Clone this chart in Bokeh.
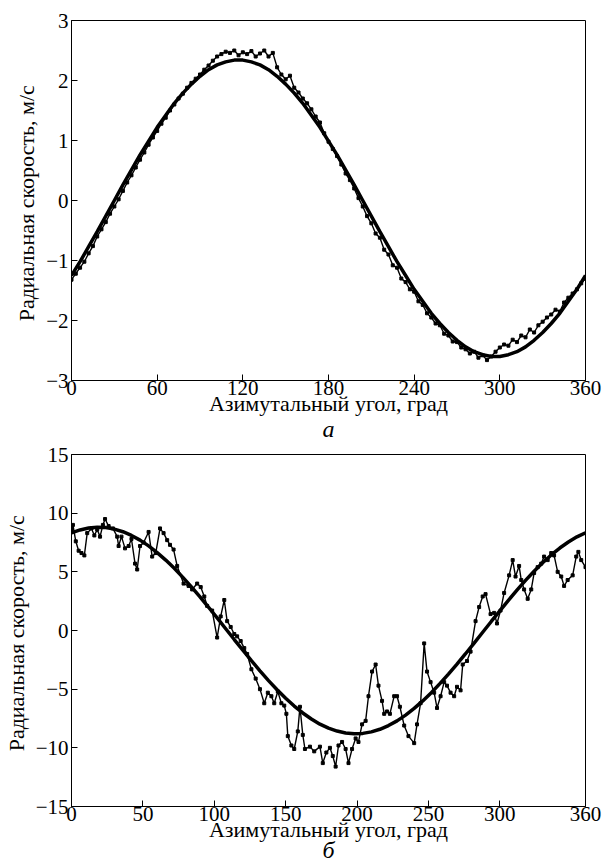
from bokeh.plotting import figure
from bokeh.layouts import column
from bokeh.models import FixedTicker, LinearAxis
from bokeh.embed import file_html
from bokeh.resources import INLINE

# ---------------- data: panel а ----------------
fit_a_x = list(range(0, 361, 6))
fit_a_y = [-1.25, -1.02, -0.77, -0.52, -0.26, 0.00, 0.26, 0.51, 0.76, 0.99, 1.22,
           1.42, 1.62, 1.79, 1.94, 2.07, 2.18, 2.26, 2.31, 2.34, 2.34, 2.31, 2.26,
           2.18, 2.07, 1.94, 1.79, 1.62, 1.42, 1.22, 0.99, 0.76, 0.51, 0.26, 0.00,
           -0.26, -0.52, -0.77, -1.02, -1.25, -1.48, -1.68, -1.88, -2.05, -2.20,
           -2.33, -2.44, -2.52, -2.57, -2.60, -2.60, -2.57, -2.52, -2.44, -2.33,
           -2.20, -2.05, -1.88, -1.68, -1.48, -1.25]

meas_a_x = list(range(0, 361, 3))
meas_a_y = [-1.32, -1.22, -1.12, -1.02, -0.88, -0.76, -0.60, -0.48, -0.36, -0.22,
            -0.10, 0.02, 0.16, 0.30, 0.42, 0.55, 0.68, 0.80, 0.93, 1.05, 1.16,
            1.28, 1.38, 1.50, 1.60, 1.70, 1.78, 1.88, 1.96, 2.03, 2.10, 2.18,
            2.25, 2.33, 2.40, 2.44, 2.48, 2.46, 2.50, 2.42, 2.47, 2.44, 2.49,
            2.40, 2.45, 2.50, 2.40, 2.46, 2.22, 2.10, 2.02, 2.08, 1.88, 1.80,
            1.70, 1.62, 1.52, 1.40, 1.30, 1.12, 0.98, 0.86, 0.74, 0.60, 0.45,
            0.34, 0.20, 0.04, -0.10, -0.26, -0.38, -0.55, -0.62, -0.82, -0.90,
            -1.08, -1.12, -1.30, -1.36, -1.48, -1.52, -1.68, -1.74, -1.88, -1.95,
            -2.05, -2.08, -2.22, -2.25, -2.35, -2.36, -2.45, -2.48, -2.55, -2.52,
            -2.62, -2.58, -2.66, -2.60, -2.52, -2.45, -2.40, -2.42, -2.32, -2.36,
            -2.25, -2.28, -2.15, -2.20, -2.08, -2.02, -1.95, -1.90, -1.82, -1.85,
            -1.70, -1.62, -1.55, -1.48, -1.38, -1.30]

xticks_a = [0, 60, 120, 180, 240, 300, 360]
yticks_a = [-3, -2, -1, 0, 1, 2, 3]

# ---------------- data: panel б ----------------
fit_b_x = list(range(0, 361, 6))
fit_b_y = [8.32, 8.57, 8.73, 8.80, 8.77, 8.64, 8.42, 8.10, 7.70, 7.21, 6.64, 6.00,
           5.30, 4.53, 3.72, 2.87, 1.98, 1.07, 0.15, -0.77, -1.68, -2.57, -3.44,
           -4.27, -5.05, -5.77, -6.44, -7.03, -7.54, -7.98, -8.32, -8.57, -8.73,
           -8.80, -8.77, -8.64, -8.42, -8.10, -7.70, -7.21, -6.64, -6.00, -5.30,
           -4.53, -3.72, -2.87, -1.98, -1.07, -0.15, 0.77, 1.68, 2.57, 3.44, 4.27,
           5.05, 5.77, 6.44, 7.03, 7.54, 7.98, 8.32]

meas_b_x = [0, 1, 3, 5, 7, 9, 11, 14, 16, 18, 20, 22, 23.5, 26, 29, 32, 33, 35,
            37.5, 40, 42, 44.5, 46, 48, 50.5, 54, 56.5, 59, 62, 64.5, 67, 69, 71.5,
            74, 78.5, 82, 84.5, 88, 90.5, 93, 95, 98.5, 102, 104.5, 107, 109, 111.5,
            114, 116, 118.5, 121, 123, 126, 129, 132, 135, 137.5, 140, 142, 144.5,
            147, 149, 150.5, 151.5, 154, 156, 158.5, 160, 162, 163.5, 167, 170, 174,
            176, 178.5, 181, 183, 185, 187, 189.5, 192, 194, 196.5, 199, 201, 203.5,
            206, 208, 210.5, 213, 215, 217.5, 219, 221, 223, 226, 228, 230, 233, 236,
            240, 242, 244.5, 247, 249, 251.5, 254, 256, 258.5, 261, 263, 265.5, 268,
            270, 272.5, 274, 277, 279.5, 283, 285.5, 288, 290, 293.5, 296, 298,
            300.5, 303, 306.5, 309, 311, 313.5, 315, 317, 319.5, 322, 324, 326.5,
            329, 331, 333.5, 336, 338, 340.5, 343, 345, 347.5, 351, 353.5, 355, 357,
            360]
meas_b_y = [8.6, 9.0, 7.6, 6.8, 6.6, 6.4, 8.3, 8.7, 8.1, 8.6, 8.0, 9.0, 9.5, 8.9,
            8.7, 8.0, 7.2, 8.0, 7.0, 7.2, 7.8, 5.7, 5.2, 7.2, 7.5, 8.4, 6.3, 6.6,
            8.7, 8.3, 7.7, 7.3, 6.9, 5.5, 4.0, 3.8, 3.5, 4.0, 3.7, 2.9, 2.1, 1.7,
            -0.6, 1.2, 2.6, 0.8, 0.3, -0.3, -0.5, -0.9, -1.5, -2.0, -3.3, -4.1,
            -5.0, -6.2, -5.3, -5.6, -6.2, -5.2, -6.2, -6.4, -7.1, -9.0, -9.8,
            -10.1, -8.6, -6.5, -8.9, -10.1, -9.9, -10.3, -9.9, -11.3, -10.4, -10.0,
            -10.7, -11.6, -9.8, -9.5, -10.1, -11.3, -10.1, -9.2, -9.5, -8.0, -7.7,
            -5.6, -3.5, -2.9, -4.7, -6.0, -7.1, -6.9, -7.1, -5.6, -5.6, -6.5, -8.1,
            -9.0, -9.6, -8.0, -6.2, -1.1, -3.5, -4.4, -5.3, -6.6, -5.6, -4.4, -4.7,
            -5.3, -5.6, -4.8, -5.1, -2.9, -2.6, -1.8, 0.8, 2.0, 2.9, 3.1, 1.4, 1.5,
            0.6, 1.7, 3.2, 4.7, 6.0, 4.6, 5.5, 4.3, 3.5, 2.7, 3.5, 4.9, 5.4, 5.7,
            6.3, 6.0, 6.6, 6.4, 5.0, 4.6, 3.8, 4.3, 4.7, 6.3, 6.7, 6.0, 5.4]

xticks_b = [0, 50, 100, 150, 200, 250, 300, 360]
yticks_b = [-15, -10, -5, 0, 5, 10, 15]

x_label = "Азимутальный угол, град"
y_label = "Радиальная скорость,  м/с"

FONT = "Liberation Serif"
W = 606
LEFT, RIGHT = 71, 21


def make_panel(fx, fy, mx, my, xt, yt, caption, height, top_border,
               bottom_border, cap_standoff):
    p = figure(width=W, height=height,
               x_range=(0, 360), y_range=(yt[0], yt[-1]),
               output_backend="svg", toolbar_location=None,
               min_border_left=LEFT, min_border_right=RIGHT,
               min_border_top=top_border, min_border_bottom=bottom_border,
               background_fill_color="white", border_fill_color="white")
    p.grid.visible = False
    p.outline_line_color = "black"
    p.outline_line_width = 1

    p.line(mx, my, line_color="black", line_width=1.4)
    p.scatter(mx, my, marker="square", size=3, color="black")
    p.line(fx, fy, line_color="black", line_width=3.5)

    p.xaxis.ticker = FixedTicker(ticks=xt)
    p.yaxis.ticker = FixedTicker(ticks=yt)
    p.yaxis.major_label_overrides = {v: (("−" + str(-v)) if v < 0 else str(v)) for v in yt}
    for ax in (p.xaxis, p.yaxis):
        ax.major_tick_in = 6
        ax.major_tick_out = 0
        ax.minor_tick_line_color = None
        ax.axis_line_color = "black"
        ax.major_tick_line_color = "black"
        ax.major_label_text_font = FONT
        ax.major_label_text_font_size = "21px"
        ax.major_label_text_color = "black"
        ax.axis_label_text_font = FONT
        ax.axis_label_text_font_size = "22px"
        ax.axis_label_text_font_style = "normal"
        ax.axis_label_text_color = "black"
    p.xaxis.axis_label = x_label
    p.yaxis.axis_label = y_label
    p.xaxis.major_label_standoff = 0
    p.xaxis.axis_label_standoff = -7
    p.yaxis.major_label_standoff = 3
    p.yaxis.axis_label_standoff = 4

    # caption (а / б) as the label of a bare extra axis below the x axis
    cap = LinearAxis(ticker=FixedTicker(ticks=[]), axis_label=caption,
                     axis_line_color=None, major_tick_line_color=None,
                     minor_tick_line_color=None, major_tick_in=0, major_tick_out=0,
                     minor_tick_in=0, minor_tick_out=0, major_label_standoff=0,
                     major_label_text_font_size="0px",
                     axis_label_standoff=cap_standoff,
                     axis_label_text_font=FONT, axis_label_text_font_size="24px",
                     axis_label_text_font_style="italic",
                     axis_label_text_color="black")
    p.add_layout(cap, "below")
    return p


pa = make_panel(fit_a_x, fit_a_y, meas_a_x, meas_a_y, xticks_a, yticks_a,
                "а", 444, 20, 64, -3)
pb = make_panel(fit_b_x, fit_b_y, meas_b_x, meas_b_y, xticks_b, yticks_b,
                "б", 421, 10, 59, -8)

layout = column(pa, pb, spacing=0)
open("out.html", "w").write(file_html(layout, INLINE))
